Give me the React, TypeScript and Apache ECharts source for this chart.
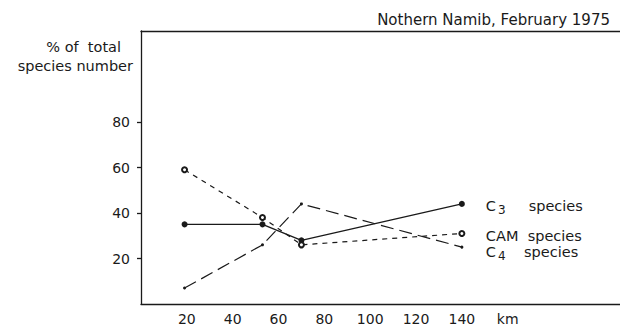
import React, { useEffect, useRef } from "react";
import * as echarts from "echarts";

const distanceKm = [19, 53, 70, 140];
const c3Values = [35, 35, 28, 44];
const camValues = [59, 38, 26, 31];
const c4Values = [7, 26, 44, 25];
const yTickLabels = [20, 40, 60, 80];
const xTickLabels = [20, 40, 60, 80, 100, 120, 140];

const FONT = "DejaVu Sans";
const INK = "#1a1a1a";

export default function App() {
  const ref = useRef<HTMLDivElement>(null);
  useEffect(() => {
    if (!ref.current) return;
    const chart = echarts.init(ref.current, null, { renderer: "svg" });
    const pts = (vals: number[]) => distanceKm.map((x, i) => [x, vals[i]]);
    const rich = {
      c: { fontFamily: FONT, fontSize: 14.5, color: INK },
      s: { fontFamily: FONT, fontSize: 12, color: INK, padding: [8, 0, 0, 2] },
    };
    chart.setOption({
      animation: false,
      backgroundColor: "#fff",
      grid: { left: 141, right: 0, top: 31, bottom: 24 },
      xAxis: [
        {
          type: "value",
          min: 0,
          max: 209,
          interval: 20,
          axisLine: { show: true, lineStyle: { color: INK, width: 1.3 } },
          axisTick: { show: false },
          splitLine: { show: false },
          axisLabel: {
            fontFamily: FONT,
            fontSize: 14,
            color: INK,
            margin: 8,
            showMaxLabel: false,
            formatter: (v: number) =>
              xTickLabels.includes(v) ? String(v) : v === 160 ? "km" : "",
          },
        },
        {
          type: "value",
          position: "top",
          min: 0,
          max: 209,
          axisLine: { show: true, onZero: false, lineStyle: { color: INK, width: 1.3 } },
          axisTick: { show: false },
          axisLabel: { show: false },
          splitLine: { show: false },
        },
      ],
      yAxis: {
        type: "value",
        min: 0,
        max: 120,
        interval: 20,
        axisLine: { show: true, lineStyle: { color: INK, width: 1.3 } },
        axisTick: {
          show: true,
          length: 4,
          lineStyle: { color: INK, width: 1.3 },
          customValues: yTickLabels,
        },
        splitLine: { show: false },
        axisLabel: {
          fontFamily: FONT,
          fontSize: 14,
          color: INK,
          margin: 11,
          customValues: yTickLabels,
          formatter: (v: number) => (yTickLabels.includes(v) ? String(v) : ""),
        },
      },
      graphic: [
        {
          type: "text",
          right: 10,
          top: 12,
          style: { text: "Nothern Namib, February 1975", fontFamily: FONT, fontSize: 15, fill: INK },
        },
        {
          type: "text",
          x: 121,
          y: 39,
          style: {
            text: "% of  total",
            fontFamily: FONT,
            fontSize: 14.5,
            fill: INK,
            align: "right",
          },
        },
        {
          type: "text",
          x: 133,
          y: 58,
          style: {
            text: "species number",
            fontFamily: FONT,
            fontSize: 14.5,
            fill: INK,
            align: "right",
          },
        },
      ],
      series: [
        {
          name: "C3 species",
          type: "line",
          data: pts(c3Values),
          symbol: "circle",
          symbolSize: 6,
          itemStyle: { color: INK },
          lineStyle: { color: INK, width: 1.3, type: "solid" },
          endLabel: {
            show: true,
            distance: 24,
            offset: [0, 2],
            formatter: "{c|C}{s|3}{c|     species}",
            rich,
          },
        },
        {
          name: "CAM species",
          type: "line",
          data: pts(camValues),
          symbol: "emptyCircle",
          symbolSize: 5,
          itemStyle: { color: INK, borderWidth: 1.2 },
          lineStyle: { color: INK, width: 1.2, type: [5, 5] },
          endLabel: {
            show: true,
            distance: 24,
            offset: [0, 3],
            formatter: "{c|CAM  species}",
            rich,
          },
        },
        {
          name: "C4 species",
          type: "line",
          data: pts(c4Values),
          symbol: "circle",
          symbolSize: 3,
          itemStyle: { color: INK },
          lineStyle: { color: INK, width: 1.2, type: [13, 6] },
          endLabel: {
            show: true,
            distance: 24,
            offset: [0, 5],
            formatter: "{c|C}{s|4}{c|    species}",
            rich,
          },
        },
      ],
    });
    return () => chart.dispose();
  }, []);
  return (
    <div
      ref={ref}
      style={{ position: "absolute", left: 0, top: 0, width: 620, height: 328 }}
    />
  );
}
